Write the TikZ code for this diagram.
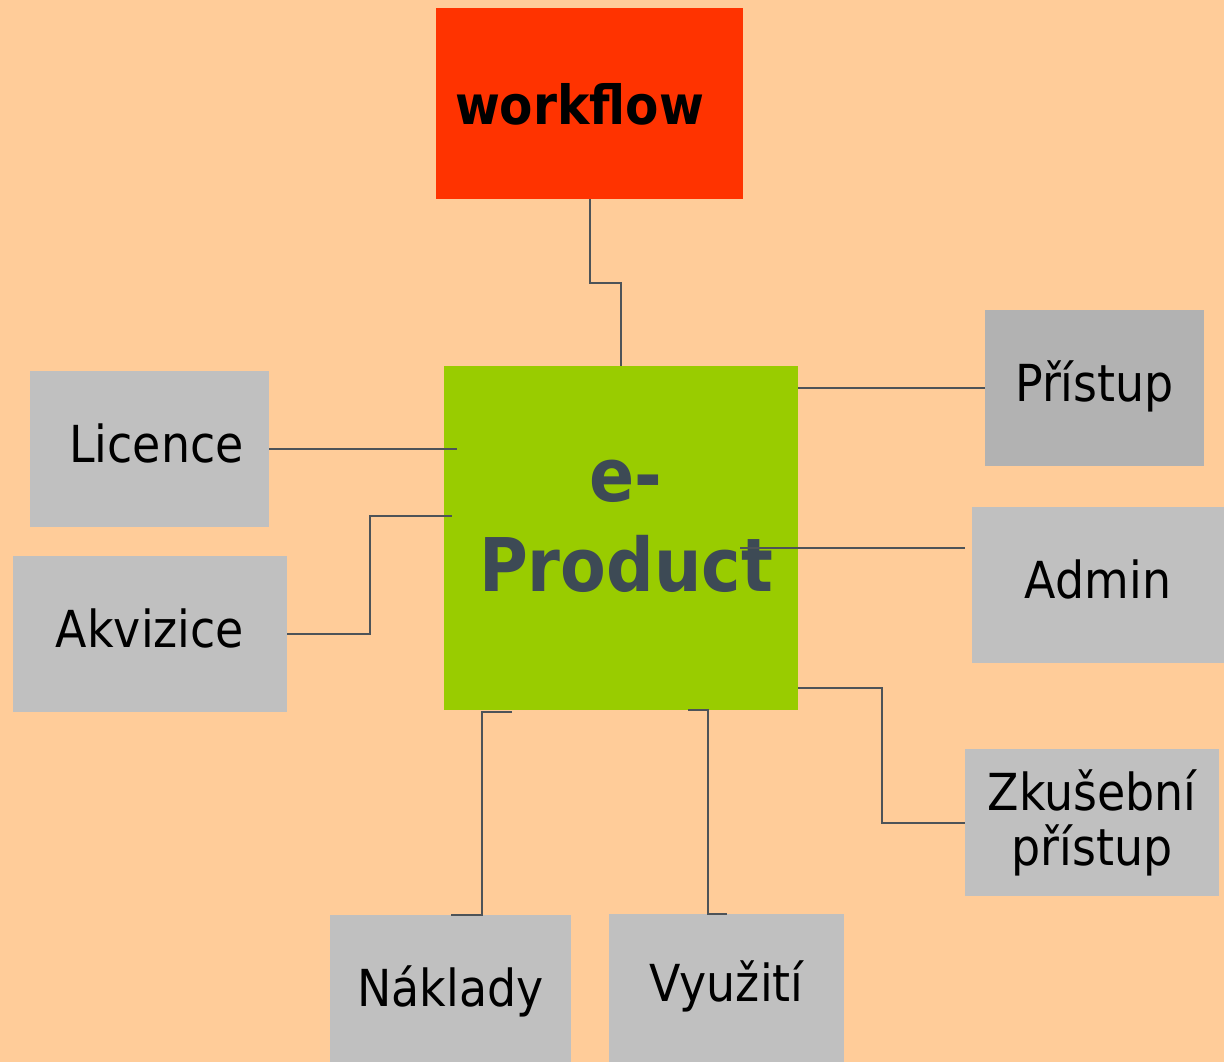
\documentclass[tikz,border=0pt]{standalone}
\usepackage{fontspec}
\setmainfont{DejaVu Sans}[FakeStretch=0.9]
\usepackage{tikz}
\usetikzlibrary{calc}
\usepackage{xcolor}
\definecolor{peach}{HTML}{FFCC99}
\definecolor{boxgray}{HTML}{C0C0C0}
\definecolor{darkgray}{HTML}{B2B2B2}
\definecolor{flowred}{HTML}{FF3300}
\definecolor{prodgreen}{HTML}{99CC00}
\definecolor{slate}{HTML}{3D4A55}
\definecolor{linegray}{HTML}{4D5358}
\tikzstyle{box}=[rectangle,fill=boxgray,inner sep=0,outer sep=0,align=center,font=\fontsize{51}{55}\selectfont,text height=36pt,text depth=10pt]
\tikzstyle{conn}=[draw=linegray,line width=2pt]

\begin{document}
\begin{tikzpicture}[x=1pt, y=-1pt]

\fill[peach] (0,0) rectangle (1224,1062);
\useasboundingbox (0,0) rectangle (1224,1062);

% hlavni uzly
\node [rectangle,fill=flowred,inner sep=0,outer sep=0,minimum width=307pt,minimum height=191pt,
  text height=42pt,text depth=0pt,font=\fontsize{54}{60}\bfseries\selectfont] (workflow) at (589.5,103.5) {\hspace{-20pt}workflow};
\node [rectangle,fill=prodgreen,inner sep=0,outer sep=0,minimum width=354pt,minimum height=344pt] (eprod) at (621,538) {};
\node [align=center,text=slate,font=\fontsize{74}{90}\bfseries\selectfont] (eprodtext) at ([shift={(5,-12)}]eprod.center) {e-\\Product};

% okolni uzly
\node [box,minimum width=239pt,minimum height=156pt] (licence) at (149.5,449) {\hspace{14pt}Licence};
\node [box,minimum width=274pt,minimum height=156pt] (akvizice) at (150,634) {Akvizice};
\node [box,fill=darkgray,minimum width=219pt,minimum height=156pt] (pristup) at (1094.5,388) {Přístup};
\node [box,minimum width=252pt,minimum height=156pt] (admin) at (1098,585) {Admin};
\node [box,minimum width=254pt,minimum height=147pt,text height=,text depth=] (zkus) at (1092,822.5) {Zkušební\\přístup};
\node [box,minimum width=241pt,minimum height=147pt,text depth=0pt] (naklady) at (450.5,988.5) {Náklady};
\node [box,minimum width=235pt,minimum height=148pt] (vyuziti) at (726.5,988) {Využití};

% spojnice
\draw [conn] (workflow.south) -- ++(0,84) -| (eprod.north);
\draw [conn] (licence.east) -- ([xshift=13pt]eprod.west |- licence.east);
\draw [conn] (akvizice.east) -- ++(83,0) |- ([shift={(8,-22)}]eprod.west);
\draw [conn] (pristup.west) -- (pristup.west -| eprod.east);
\draw [conn] ([shift={(-58,10)}]eprod.east) -- ++(225,0);
\draw [conn] ([shift={(0,-22)}]eprod.south east) -- ++(84,0) |- (zkus.west);
\draw [conn] ([shift={(68,2)}]eprod.south west) -- ++(-30,0) |- (naklady.north);
\draw [conn] ([shift={(244,0)}]eprod.south west) -- ++(20,0) |- (vyuziti.north);

\end{tikzpicture}
\end{document}
